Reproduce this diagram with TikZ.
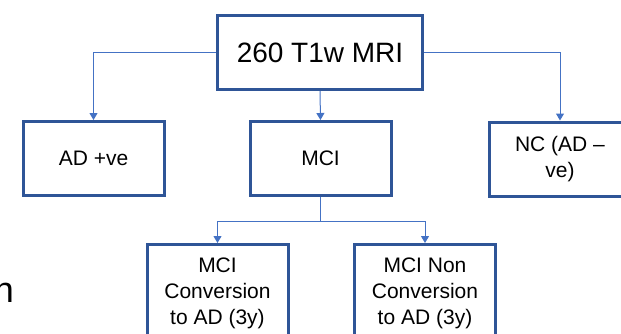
\documentclass[tikz,border=0pt]{standalone}
\usepackage{fontspec}
\setmainfont{Liberation Sans}
\usetikzlibrary{positioning,arrows.meta}
\definecolor{boxBlue}{RGB}{47,85,151}
\definecolor{linkBlue}{RGB}{68,114,196}

\begin{document}
\begin{tikzpicture}[x=1pt, y=-1pt,
    box/.style={draw=boxBlue, line width=3pt, fill=white, align=center,
      minimum width=141pt, minimum height=74pt, inner sep=2pt,
      font=\fontsize{21}{26}\selectfont},
    link/.style={-{Triangle[length=7pt,width=8pt]}, line width=1pt, color=linkBlue}
  ]
    \useasboundingbox (0,0) rectangle (621,333);
    \clip (0,0) rectangle (621,333);

    \node[box, minimum width=205pt, font=\fontsize{28}{33}\selectfont] (top) at (320,52.5) {260 T1w MRI};

    \node[box] (mci) at (320.5,158.5) {MCI};
    \node[box] (ad) at (93.5,158.5) {AD +ve};
    \node[box] (nc) at (560,159) {NC (AD --\\ve)};

    \node[box, minimum height=97pt] (conv) at (217.5,293) {MCI\\Conversion\\to AD (3y)};
    \node[box, minimum height=97pt] (nonconv) at (425,293) {MCI Non\\Conversion\\to AD (3y)};

    \node[anchor=base east, inner sep=0pt, font=\fontsize{36}{40}\selectfont] (cut) at (14,302) {n};

    \coordinate (fork) at (mci.south |- 0,221);

    \draw[link] (top.west) -| (ad.north);
    \draw[link] (top.south) -- (mci.north);
    \draw[link] (top.east) -| (nc.north);
    \draw[line width=1pt, color=linkBlue] (mci.south) -- (fork);
    \draw[link] (fork) -| (conv.north);
    \draw[link] (fork) -| (nonconv.north);
  \end{tikzpicture}
\end{document}
